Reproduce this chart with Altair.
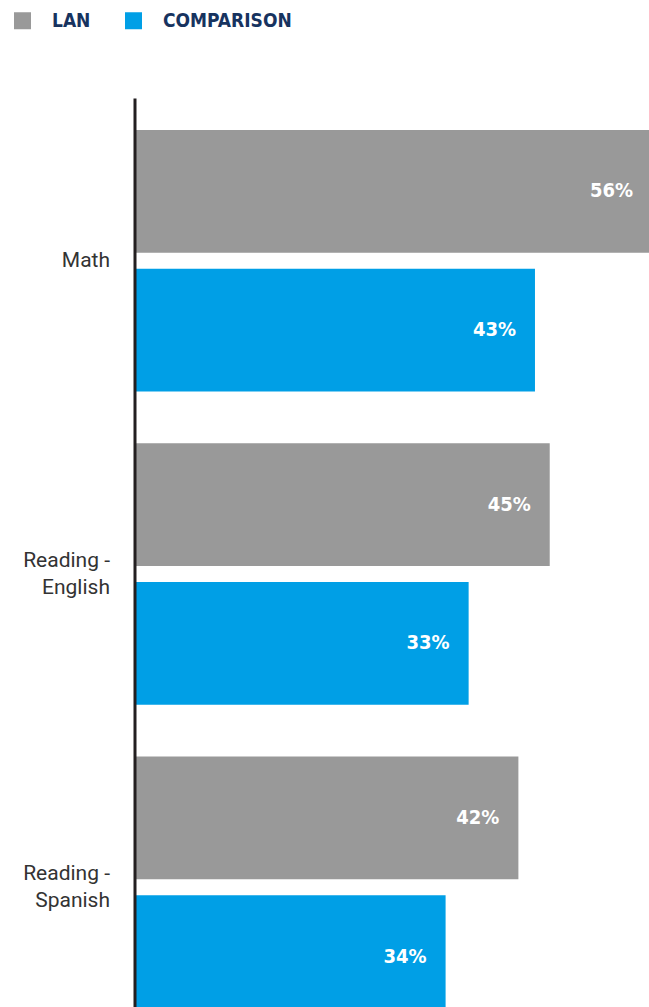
import altair as alt
import pandas as pd

categories = ["Math", "Reading -\nEnglish", "Reading -\nSpanish"]
series = ["LAN", "COMPARISON"]
lan_values = [56.0, 44.9, 41.5]
comparison_values = [43.3, 36.1, 33.6]
lan_labels = ["56%", "45%", "42%"]
comparison_labels = ["43%", "33%", "34%"]

rows = []
for i, c in enumerate(categories):
    rows.append({"category": c, "series": "LAN", "value": lan_values[i], "label": lan_labels[i]})
    rows.append({"category": c, "series": "COMPARISON", "value": comparison_values[i], "label": comparison_labels[i]})
df = pd.DataFrame(rows)

NARROW = "DejaVu Sans Condensed, sans-serif"

y_enc = alt.Y(
    "category:N",
    sort=categories,
    scale=alt.Scale(paddingInner=0.1656, paddingOuter=0.102, range=[0, 952]),
    axis=alt.Axis(
        title=None,
        ticks=False,
        tickSize=0,
        offset=1.5,
        zindex=1,
        labelPadding=25,
        labelFont="Roboto",
        labelFontSize=21,
        labelColor="#333333",
        labelLineHeight=27,
        labelExpr="split(datum.label, '\\n')",
        labelOffset={"condition": {"test": "indexof(datum.label, '\\n') >= 0", "value": -13}, "value": 0},
        domainColor="#231f20",
        domainWidth=3,
        grid=False,
    ),
)
yoff = alt.YOffset("series:N", sort=series, scale=alt.Scale(paddingInner=0.115, paddingOuter=0))
x_enc = alt.X("value:Q", scale=alt.Scale(domain=[0, 56], range=[0, 516], nice=False, zero=True), axis=None)

base = alt.Chart(df)

bars = base.mark_bar().encode(
    y=y_enc,
    yOffset=yoff,
    x=x_enc,
    color=alt.Color(
        "series:N",
        sort=series,
        scale=alt.Scale(domain=series, range=["#999999", "#009fe6"]),
        legend=alt.Legend(
            title=None,
            orient="none",
            direction="horizontal",
            legendX=-123,
            legendY=-87,
            symbolType="square",
            symbolSize=289,
            symbolStrokeWidth=0,
            symbolOpacity=1,
            labelOffset=20,
            columnPadding=33,
            labelFont=NARROW,
            labelFontSize=19,
            labelFontWeight="bold",
            labelColor="#17335f",
        ),
    ),
)

texts = base.mark_text(
    align="right",
    baseline="middle",
    dx=-19,
    font=NARROW,
    fontSize=20,
    fontWeight="bold",
    color="white",
).encode(
    y=alt.Y("category:N", sort=categories),
    yOffset=alt.YOffset("series:N", sort=series),
    x=alt.X("value:Q"),
    text="label:N",
)

chart = (
    alt.layer(bars, texts)
    .properties(
        width=513,
        height=909,
        autosize=alt.AutoSizeParams(type="none"),
        padding={"left": 136, "top": 98, "right": 0, "bottom": 0},
    )
    .configure_view(stroke=None)
)

chart.save("out.html", embed_options={"renderer": "svg", "actions": False})
